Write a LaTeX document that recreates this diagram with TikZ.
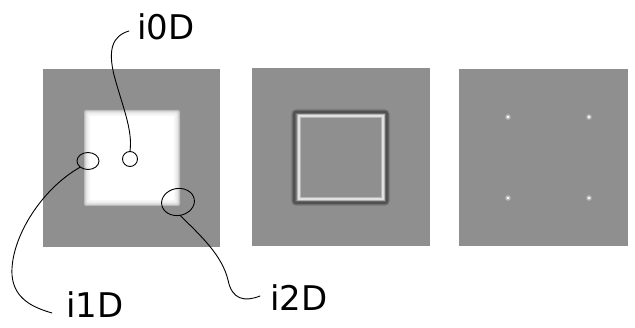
\documentclass[tikz,border=0pt]{standalone}
\usepackage{fontspec}
\setmainfont{DejaVu Sans}
\usetikzlibrary{shapes.geometric}
\definecolor{panelgray}{RGB}{143,143,143}
\definecolor{shadowgray}{RGB}{50,50,50}
\tikzset{
  panel/.style={fill=panelgray, draw=none},
  pen/.style={draw=black, line width=0.9pt, line cap=round},
  lbl/.style={font=\fontsize{34}{34}\selectfont, inner sep=0pt, anchor=west},
  ring/.style={draw=black, line width=0.9pt, fill=none}
}
\begin{document}
\begin{tikzpicture}[x=1pt,y=-1pt]
\useasboundingbox (0,0) rectangle (635,328);
\fill[white] (0,0) rectangle (635,328);
% panels
\path[panel] (43,69) rectangle (220,247);
\path[panel] (252,68) rectangle (430,246);
\path[panel] (459,69) rectangle (628,246);
% panel 1: blurred white square
\foreach \d in {3,2,1,0,-1,-2,-3}{
  \fill[white, opacity=0.38, rounded corners=2pt] (87-\d,113-\d) rectangle (177+\d,203+\d);
}
\fill[white] (90,116) rectangle (174,200);
% panel 2: dark shadow outline and white inner line
\draw[shadowgray, opacity=0.18, line width=6pt, rounded corners=3pt] (294,112) rectangle (387,203);
\draw[shadowgray, opacity=0.35, line width=3.5pt, rounded corners=2pt] (294,112) rectangle (387,203);
\draw[shadowgray, opacity=0.35, line width=1.8pt, rounded corners=2pt] (294,112) rectangle (387,203);
\draw[panelgray, line width=3pt] (299,116) rectangle (383,199);
\draw[white, opacity=0.35, line width=3.5pt] (299,116) rectangle (383,199);
\draw[white, opacity=0.6, line width=2pt] (299,116) rectangle (383,199);
% panel 3: corner dots
\foreach \p in {(508,117),(589,117),(508,198),(589,198)}{
  \fill[white, opacity=0.35] \p circle (2.8);
  \fill[white] \p circle (1.4);
}
% labels
\node[lbl] (l0) at (137,27) {i0D};
\node[lbl] (l1) at (66,305) {i1D};
\node[lbl] (l2) at (270,298) {i2D};
% annotation rings
\node[ring, circle, minimum size=15pt, inner sep=0pt] (c0) at (130,159) {};
\node[ring, ellipse, minimum width=22pt, minimum height=17pt, inner sep=0pt] (c1) at (88,161) {};
\node[ring, ellipse, minimum width=33pt, minimum height=27pt, inner sep=0pt, rotate=10] (c2) at (178,202) {};
% leader lines
\coordinate (e0) at (129,31);
\coordinate (e1) at (52,313);
\coordinate (e2) at (260,296);
\draw[pen] (e0) .. controls (112,36) and (108,50) .. (114,75)
  .. controls (122,105) and (133,130) .. (c0.north);
\draw[pen] (c1.south west) .. controls (40,190) and (10,240) .. (12,275)
  .. controls (14,300) and (35,308) .. (e1);
\draw[pen] (c2.south) .. controls (200,235) and (222,255) .. (228,280)
  .. controls (232,300) and (245,302) .. (e2);
\end{tikzpicture}
\end{document}
